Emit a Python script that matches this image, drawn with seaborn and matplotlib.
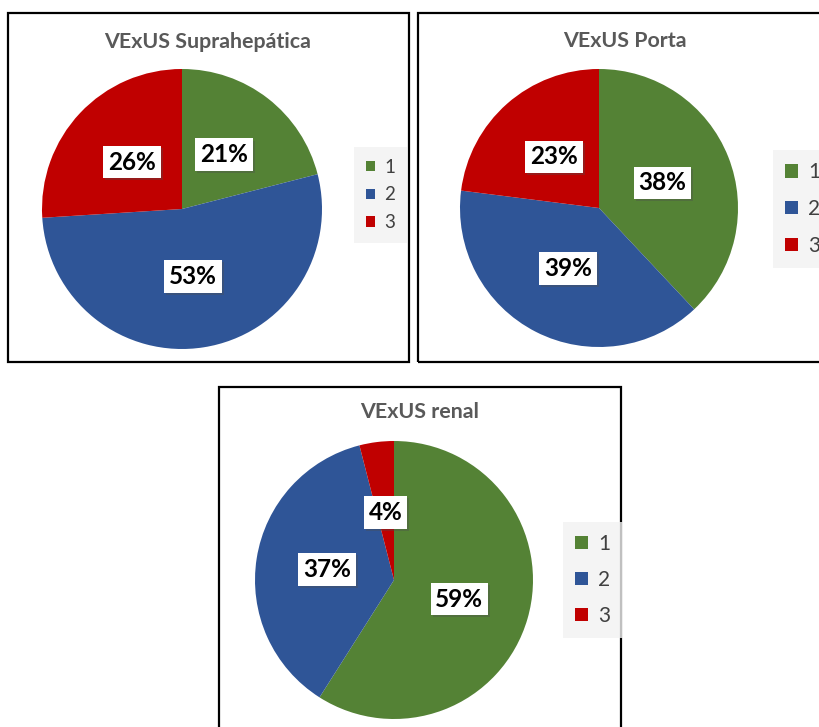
import matplotlib
matplotlib.use("Agg")
import matplotlib.pyplot as plt
import matplotlib.patheffects as pe
from matplotlib.patches import Rectangle, Patch
import seaborn as sns

sns.set_theme(style="white")
plt.rcParams["font.family"] = ["Lato", "DejaVu Sans"]

# Data
grades = ["1", "2", "3"]
supra_pct = [21, 53, 26]
porta_pct = [38, 39, 23]
renal_pct = [59, 37, 4]
titles = ["VExUS Suprahepática", "VExUS Porta", "VExUS renal"]

palette = sns.color_palette(["#548235", "#2F5597", "#C00000"])

W, H = 820, 727
fig = plt.figure(figsize=(W / 100, H / 100), dpi=100)
fig.patch.set_facecolor("white")


def fx(x):
    return x / W


def fy(y):
    return 1 - y / H


# panel layout in pixels: frame box, pie centre/radius, title position, legend
panels = [
    dict(values=supra_pct, title=titles[0], box=(8, 13, 409, 362),
         center=(182, 209), r=140, title_xy=(208, 42),
         legend_xy=(360, 195), lfont=13.5, hlen=0.5, spacing=0.58),
    dict(values=porta_pct, title=titles[1], box=(418, 13, 830, 362),
         center=(599, 208), r=139, title_xy=(625, 41),
         legend_xy=(779, 209), lfont=15, hlen=0.6, spacing=0.8),
    dict(values=renal_pct, title=titles[2], box=(219, 387, 621, 740),
         center=(394, 580), r=139, title_xy=(420, 412),
         legend_xy=(569, 580), lfont=15, hlen=0.6, spacing=0.76),
]

for p in panels:
    x0, y0, x1, y1 = p["box"]
    fig.patches.append(Rectangle((fx(x0), fy(y1)), fx(x1) - fx(x0), fy(y0) - fy(y1),
                                 transform=fig.transFigure, facecolor="none",
                                 edgecolor="black", linewidth=1.6, zorder=0))
    cx, cy = p["center"]
    r = p["r"]
    ax = fig.add_axes([fx(cx - r), fy(cy + r), 2 * r / W, 2 * r / H])
    wedges, texts, autotexts = ax.pie(
        p["values"], colors=palette, startangle=90, counterclock=False,
        radius=1, autopct=lambda v: f"{v:.0f}%", pctdistance=0.49,
        wedgeprops=dict(linewidth=0),
        textprops=dict(fontsize=17.5, fontweight="bold", color="black"))
    for t in autotexts:
        t.set_bbox(dict(boxstyle="square,pad=0.2", facecolor="white", edgecolor="none"))
        t.get_bbox_patch().set_path_effects(
            [pe.SimplePatchShadow(offset=(1.5, -1.5), alpha=0.35), pe.Normal()])
    ax.set_xlim(-1, 1)
    ax.set_ylim(-1, 1)
    ax.set_aspect("equal")
    ax.axis("off")

    tx, ty = p["title_xy"]
    fig.text(fx(tx), fy(ty), p["title"], ha="center", va="center",
             fontsize=15.4, fontweight="bold", color="#595959")

    lx, ly = p["legend_xy"]
    handles = [Patch(facecolor=c, edgecolor="none") for c in palette]
    leg = fig.legend(handles, grades, loc="center left",
                     bbox_to_anchor=(fx(lx), fy(ly)), frameon=True,
                     fontsize=p["lfont"], labelcolor="#404040",
                     handlelength=p["hlen"], handleheight=p["hlen"],
                     handletextpad=0.5, labelspacing=p["spacing"],
                     borderpad=0.3, borderaxespad=0)
    leg.get_frame().set_facecolor("#F2F2F2")
    leg.get_frame().set_edgecolor("none")
    leg.get_frame().set_boxstyle("square")

fig.savefig("out.png", dpi=100, facecolor="white")
